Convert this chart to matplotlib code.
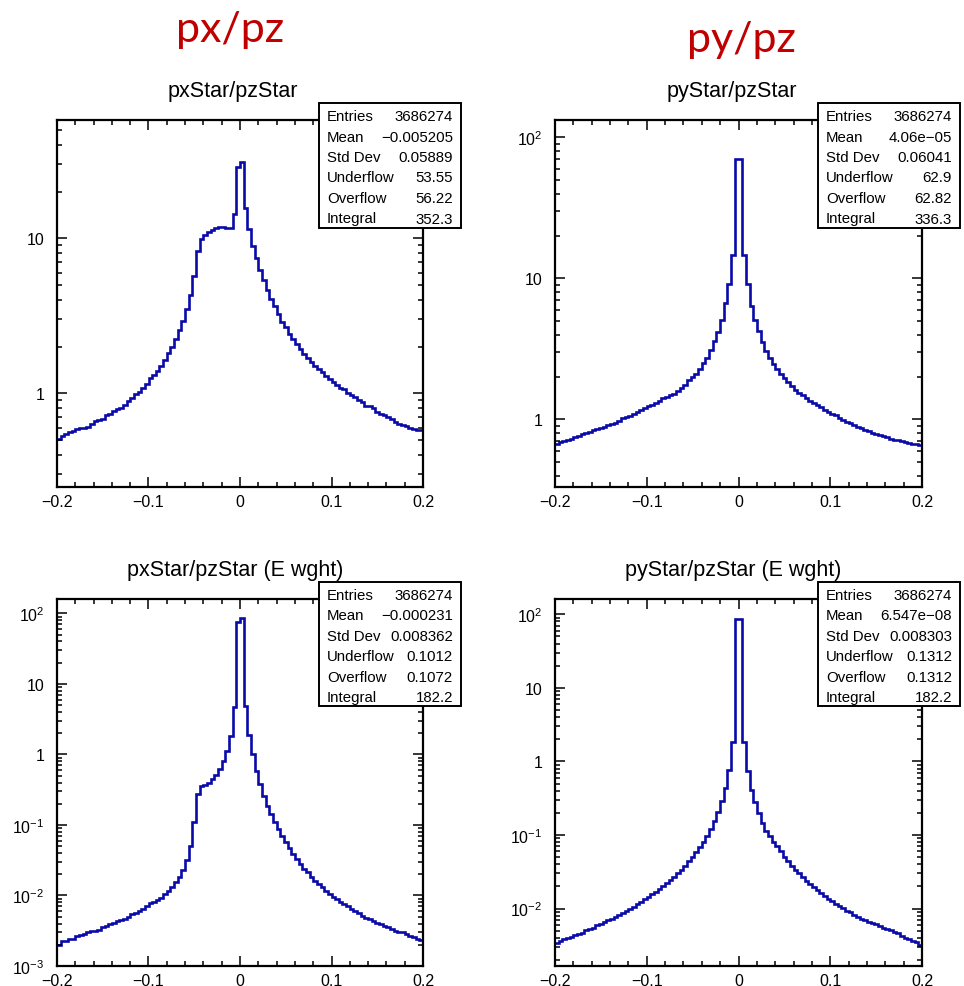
"""
Four ROOT-style log histograms of the px/pz and py/pz slopes,
unweighted (top row) and energy weighted (bottom row), with stat boxes.
"""

import numpy as np
import matplotlib
matplotlib.use("Agg")
import matplotlib.pyplot as plt
from matplotlib.patches import Rectangle
from matplotlib.ticker import LogLocator, MultipleLocator, FuncFormatter, NullFormatter

plt.rcParams["font.family"] = ["Liberation Sans", "DejaVu Sans"]
plt.rcParams["mathtext.fontset"] = "custom"
plt.rcParams["mathtext.rm"] = "Liberation Sans"
plt.rcParams["mathtext.it"] = "Liberation Sans:italic"

# ===========================================================================
# DATA (100 bins from -0.2 to 0.2)
# ===========================================================================
X_LO, X_HI, N_BINS = -0.2, 0.2, 100

PX_VALUES = [
    0.507, 0.528, 0.547, 0.56, 0.57, 0.59, 0.595, 0.595, 0.61, 0.634,
    0.666, 0.673, 0.68, 0.72, 0.736, 0.773, 0.79, 0.80, 0.84, 0.897,
    0.93, 0.99, 1.025, 1.09, 1.15, 1.26, 1.31, 1.40, 1.51, 1.65,
    1.81, 1.98, 2.24, 2.56, 2.93, 3.50, 4.31, 5.74, 8.3, 9.9,
    10.5, 11.0, 11.4, 11.7, 11.8, 11.9, 11.6, 11.6, 14.4, 28.7,
    31.0, 15.6, 11.5, 8.97, 7.43, 6.28, 5.41, 4.66, 4.06, 3.64,
    3.25, 2.90, 2.67, 2.41, 2.24, 2.08, 1.93, 1.79, 1.69, 1.60,
    1.51, 1.43, 1.37, 1.30, 1.24, 1.18, 1.13, 1.08, 1.06, 1.01,
    0.976, 0.943, 0.906, 0.875, 0.832, 0.832, 0.80, 0.762, 0.736, 0.725,
    0.70, 0.683, 0.656, 0.634, 0.625, 0.612, 0.60, 0.589, 0.583, 0.583,
]

PY_VALUES = [
    0.673, 0.691, 0.70, 0.718, 0.73, 0.75, 0.76, 0.79, 0.80, 0.818,
    0.836, 0.854, 0.864, 0.883, 0.912, 0.922, 0.937, 0.968, 1.02, 1.04,
    1.067, 1.10, 1.13, 1.16, 1.20, 1.24, 1.27, 1.31, 1.36, 1.41,
    1.45, 1.49, 1.52, 1.60, 1.67, 1.76, 1.89, 1.99, 2.10, 2.28,
    2.50, 2.75, 3.11, 3.60, 4.19, 5.10, 6.66, 9.1, 14.6, 70.0,
    70.0, 14.6, 9.1, 6.4, 5.07, 4.22, 3.53, 3.08, 2.72, 2.47,
    2.28, 2.10, 1.96, 1.84, 1.74, 1.63, 1.54, 1.48, 1.42, 1.36,
    1.31, 1.26, 1.22, 1.17, 1.13, 1.10, 1.07, 1.03, 0.984, 0.957,
    0.94, 0.907, 0.878, 0.868, 0.845, 0.822, 0.805, 0.79, 0.77, 0.76,
    0.75, 0.73, 0.72, 0.71, 0.70, 0.69, 0.684, 0.673, 0.665, 0.66,
]

PX_EW_VALUES = [
    1.97e-3, 2.28e-3, 2.28e-3, 2.40e-3, 2.45e-3, 2.68e-3, 2.73e-3, 2.81e-3, 2.99e-3, 3.15e-3,
    3.15e-3, 3.26e-3, 3.52e-3, 3.71e-3, 3.92e-3, 4.05e-3, 4.37e-3, 4.51e-3, 4.71e-3, 5.03e-3,
    5.42e-3, 5.72e-3, 6.04e-3, 6.51e-3, 7.1e-3, 7.76e-3, 8.1e-3, 8.6e-3, 9.3e-3, 0.0104,
    0.0116, 0.0134, 0.0157, 0.0185, 0.0231, 0.0314, 0.0502, 0.110, 0.272, 0.357,
    0.365, 0.397, 0.45, 0.51, 0.62, 0.80, 1.11, 1.84, 4.64, 76.0,
    86.0, 4.9, 1.90, 1.01, 0.586, 0.379, 0.259, 0.187, 0.143, 0.111,
    0.0873, 0.0687, 0.0565, 0.0465, 0.0386, 0.0328, 0.0278, 0.0241, 0.0212, 0.0184,
    0.0161, 0.0145, 0.0130, 0.0116, 0.0104, 9.57e-3, 8.87e-3, 8.1e-3, 7.5e-3, 6.98e-3,
    6.4e-3, 6.04e-3, 5.6e-3, 5.13e-3, 4.86e-3, 4.6e-3, 4.37e-3, 4.13e-3, 3.92e-3, 3.71e-3,
    3.52e-3, 3.33e-3, 3.15e-3, 3.05e-3, 2.99e-3, 2.81e-3, 2.68e-3, 2.58e-3, 2.45e-3, 2.35e-3,
]

PY_EW_VALUES = [
    3.45e-3, 3.63e-3, 3.83e-3, 3.99e-3, 4.16e-3, 4.34e-3, 4.48e-3, 4.72e-3, 5.07e-3, 5.24e-3,
    5.52e-3, 5.93e-3, 6.25e-3, 6.58e-3, 6.94e-3, 7.31e-3, 7.71e-3, 8.28e-3, 8.81e-3, 9.28e-3,
    9.98e-3, 0.0106, 0.0114, 0.0123, 0.0134, 0.0144, 0.0157, 0.0169, 0.0184, 0.0204,
    0.0223, 0.0247, 0.0272, 0.0305, 0.0339, 0.0385, 0.0437, 0.050, 0.0586, 0.0687,
    0.0801, 0.0970, 0.120, 0.154, 0.205, 0.290, 0.438, 0.764, 1.85, 86.4,
    86.4, 1.85, 0.746, 0.412, 0.283, 0.198, 0.145, 0.112, 0.0955, 0.081,
    0.0701, 0.0600, 0.0509, 0.0444, 0.0385, 0.0339, 0.0302, 0.0268, 0.0234, 0.0218,
    0.0196, 0.0177, 0.0165, 0.0149, 0.0137, 0.0127, 0.0117, 0.0109, 0.0101, 9.4e-3,
    8.9e-3, 8.2e-3, 7.7e-3, 7.3e-3, 6.9e-3, 6.6e-3, 6.4e-3, 6.1e-3, 5.8e-3, 5.5e-3,
    5.3e-3, 5.1e-3, 4.8e-3, 4.6e-3, 4.2e-3, 4.0e-3, 3.9e-3, 3.6e-3, 3.5e-3, 3.2e-3,
]

TITLES = ["pxStar/pzStar", "pyStar/pzStar",
          "pxStar/pzStar (E wght)", "pyStar/pzStar (E wght)"]
HEADERS = ["px/pz", "py/pz"]

STAT_LABELS = ["Entries", "Mean", "Std Dev", "Underflow", "Overflow", "Integral"]
STATS = [
    ["3686274", "\u22120.005205", "0.05889", "53.55", "56.22", "352.3"],
    ["3686274", "4.06e\u221205", "0.06041", "62.9", "62.82", "336.3"],
    ["3686274", "\u22120.000231", "0.008362", "0.1012", "0.1072", "182.2"],
    ["3686274", "6.547e\u221208", "0.008303", "0.1312", "0.1312", "182.2"],
]

# ===========================================================================
# LAYOUT (pixels, top-left origin, on a 964 x 987 canvas)
# ===========================================================================
W, H = 964, 987
AXES_PX = [(57, 121, 423, 488), (555, 121, 922, 488),
           (57, 600, 423, 967), (555, 600, 922, 967)]
YLIMS = [(0.2486, 58.0), (0.332, 133.0), (1e-3, 160.0), (1.66e-3, 161.0)]
STAT_BOX_PX = [(319, 104, 461, 229), (818, 104, 960, 229),
               (319, 583, 461, 707), (818, 583, 960, 707)]
TITLE_PX = [(233, 92), (732, 92), (235, 571), (733, 571)]
HEADER_PX = [(230, 30), (741, 40)]

LINE_COLOR = "#0a0aa8"
RED = "#c00000"


def fx(x):
    return x / W


def fy(y):
    return 1 - y / H


def log_label(v, pos):
    e = int(round(np.log10(v)))
    if e == 0:
        return "1"
    if e == 1:
        return "10"
    return rf"$10^{{{e}}}$"


def x_label(v, pos):
    if abs(v) < 1e-9:
        return "0"
    return f"{v:.1f}".replace("-", "\u2212")


def draw_panel(fig, i, values):
    x0, y0, x1, y1 = AXES_PX[i]
    ax = fig.add_axes([fx(x0), fy(y1), (x1 - x0) / W, (y1 - y0) / H])
    edges = np.linspace(X_LO, X_HI, N_BINS + 1)
    ax.stairs(values, edges, color=LINE_COLOR, lw=1.9, baseline=None)

    ax.set_yscale("log")
    ax.set_xlim(X_LO, X_HI)
    ax.set_ylim(*YLIMS[i])
    ax.xaxis.set_major_locator(MultipleLocator(0.1))
    ax.xaxis.set_minor_locator(MultipleLocator(0.02))
    ax.xaxis.set_major_formatter(FuncFormatter(x_label))
    ax.yaxis.set_major_locator(LogLocator(base=10, numticks=20))
    ax.yaxis.set_minor_locator(LogLocator(base=10, subs=np.arange(2, 10), numticks=20))
    ax.yaxis.set_major_formatter(FuncFormatter(log_label))
    ax.yaxis.set_minor_formatter(NullFormatter())

    ax.tick_params(which="both", direction="in", top=True, right=True,
                   width=1.1, labelsize=11.5)
    ax.tick_params(which="major", length=7.5)
    ax.tick_params(which="minor", length=3.8)
    ax.tick_params(axis="y", pad=9)
    ax.tick_params(axis="x", pad=5)
    for s in ax.spines.values():
        s.set_linewidth(1.6)

    tx, ty = TITLE_PX[i]
    fig.text(fx(tx), fy(ty), TITLES[i], ha="center", va="center", fontsize=15.5)

    # stat box
    bx0, by0, bx1, by1 = STAT_BOX_PX[i]
    fig.patches.append(Rectangle((fx(bx0), fy(by1)), (bx1 - bx0) / W, (by1 - by0) / H,
                                 transform=fig.transFigure, facecolor="white",
                                 edgecolor="black", lw=1.4, zorder=5))
    for r, (lab, val) in enumerate(zip(STAT_LABELS, STATS[i])):
        yy = by0 + 13 + 20.5 * r
        fig.text(fx(bx0 + 8), fy(yy), lab, ha="left", va="center",
                 fontsize=10.8, zorder=6)
        fig.text(fx(bx1 - 8), fy(yy), val, ha="right", va="center",
                 fontsize=10.8, zorder=6)
    return ax


def main():
    fig = plt.figure(figsize=(W / 100, H / 100), dpi=100)
    for i, vals in enumerate([PX_VALUES, PY_VALUES, PX_EW_VALUES, PY_EW_VALUES]):
        draw_panel(fig, i, vals)
    for (hx, hy), txt in zip(HEADER_PX, HEADERS):
        fig.text(fx(hx), fy(hy), txt, ha="center", va="center", fontsize=31,
                 color=RED, family=["Lato", "DejaVu Sans"])
    fig.savefig("out.png", dpi=100)


if __name__ == "__main__":
    main()
